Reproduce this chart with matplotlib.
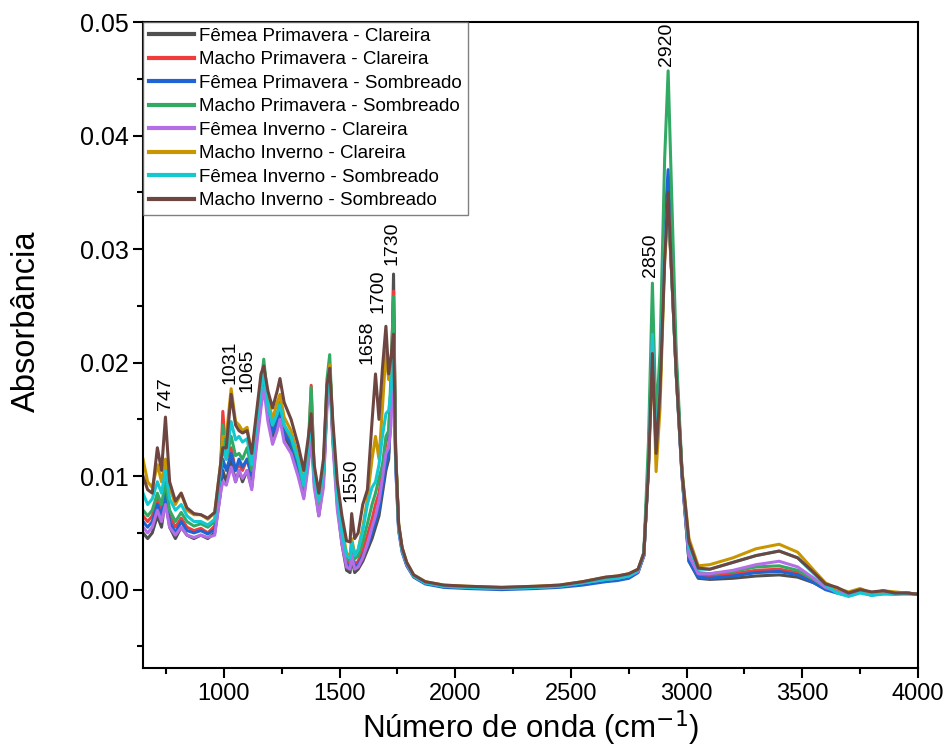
import numpy as np
import matplotlib
matplotlib.use("Agg")
import matplotlib.pyplot as plt
from matplotlib.ticker import MultipleLocator

plt.rcParams["font.family"] = ["Liberation Sans", "DejaVu Sans"]

# wavenumber grid (cm-1) shared by all spectra
wavenumber = [
    650, 670, 690, 712, 730, 747, 765, 790, 815, 840,
    870, 900, 930, 960, 985, 995, 1010, 1031, 1050, 1065,
    1080, 1100, 1120, 1140, 1160, 1172, 1190, 1210, 1230, 1242,
    1260, 1290, 1320, 1345, 1365, 1377, 1390, 1410, 1430, 1445,
    1457, 1470, 1490, 1510, 1530, 1545, 1552, 1565, 1580, 1600,
    1620, 1640, 1655, 1670, 1685, 1700, 1712, 1722, 1733, 1742,
    1755, 1770, 1790, 1820, 1870, 1950, 2050, 2200, 2350, 2450,
    2550, 2650, 2700, 2750, 2790, 2815, 2835, 2852, 2868, 2885,
    2905, 2920, 2935, 2955, 2980, 3010, 3050, 3100, 3200, 3300,
    3400, 3480, 3550, 3600, 3650, 3700, 3750, 3800, 3850, 3900,
    3950, 4000,
]

# absorbance values, in units of 1e-3
femea_prim_clareira = [
    5.0, 4.5, 5.0, 6.5, 5.5, 8.0, 5.5, 4.5, 5.5, 4.8,
    4.5, 4.8, 4.5, 5.0, 8.5, 10.5, 9.5, 11.5, 9.5, 10.5,
    9.5, 10.5, 9.0, 13.0, 16.5, 18.5, 15.5, 13.5, 14.5, 15.5,
    13.5, 12.5, 10.5, 8.2, 11.5, 14.5, 9.5, 6.5, 9.5, 16.5,
    19.5, 13.5, 7.5, 4.0, 1.7, 1.5, 2.8, 1.5, 1.8, 2.5,
    3.5, 4.5, 5.5, 6.5, 8.5, 10.5, 11.5, 16.0, 27.8, 12.0,
    5.5, 3.5, 2.2, 1.2, 0.6, 0.3, 0.2, 0.1, 0.2, 0.3,
    0.6, 0.9, 1.0, 1.2, 1.6, 3.0, 11.0, 22.5, 12.5, 18.0,
    30.0, 34.5, 28.0, 19.0, 10.0, 2.5, 1.0, 0.9, 1.0, 1.2,
    1.3, 1.1, 0.6, 0.1, -0.2, -0.4, -0.1, -0.4, -0.2, -0.3,
    -0.3, -0.4,
]
macho_prim_clareira = [
    6.5, 6.0, 6.5, 8.0, 7.0, 9.0, 6.5, 5.5, 6.3, 5.5,
    5.2, 5.4, 5.0, 5.6, 10.5, 15.7, 11.5, 12.5, 10.5, 11.0,
    10.5, 11.5, 10.0, 13.5, 17.0, 19.0, 16.0, 14.0, 15.0, 16.0,
    14.0, 13.0, 11.0, 8.8, 12.0, 18.0, 10.0, 7.2, 10.0, 17.0,
    19.8, 14.0, 8.0, 4.5, 2.5, 2.2, 3.5, 2.2, 2.5, 3.5,
    4.8, 6.2, 7.5, 8.5, 10.5, 13.0, 13.8, 18.0, 26.3, 12.0,
    5.5, 3.5, 2.2, 1.2, 0.6, 0.3, 0.2, 0.1, 0.2, 0.3,
    0.6, 0.9, 1.0, 1.2, 1.6, 3.0, 11.2, 23.0, 13.0, 19.0,
    31.0, 35.0, 29.0, 19.5, 10.2, 3.0, 1.3, 1.2, 1.4, 1.7,
    1.8, 1.5, 0.8, 0.2, -0.1, -0.3, 0.0, -0.3, -0.1, -0.3,
    -0.3, -0.4,
]
femea_prim_sombreado = [
    6.0, 5.5, 6.0, 7.5, 6.5, 8.5, 6.0, 5.0, 6.0, 5.2,
    5.0, 5.2, 4.9, 5.3, 9.0, 11.5, 10.5, 12.0, 10.5, 11.5,
    10.8, 11.5, 10.0, 13.5, 16.8, 18.8, 15.8, 13.8, 14.8, 15.8,
    13.8, 12.8, 10.8, 8.6, 11.8, 15.0, 9.8, 7.0, 9.8, 16.8,
    19.6, 13.8, 7.8, 4.3, 2.2, 2.0, 3.2, 2.0, 2.2, 3.0,
    3.8, 5.0, 6.0, 7.0, 9.0, 11.0, 12.0, 16.0, 24.0, 11.0,
    5.2, 3.3, 2.1, 1.1, 0.5, 0.2, 0.1, 0.0, 0.1, 0.2,
    0.4, 0.7, 0.8, 1.0, 1.5, 3.0, 11.0, 23.0, 13.5, 19.0,
    32.0, 37.0, 30.0, 20.0, 10.2, 2.5, 1.1, 1.0, 1.2, 1.5,
    1.6, 1.3, 0.6, 0.0, -0.3, -0.5, -0.2, -0.5, -0.3, -0.4,
    -0.3, -0.4,
]
macho_prim_sombreado = [
    7.0, 6.5, 7.0, 8.5, 7.5, 9.5, 7.0, 6.0, 6.8, 6.0,
    5.6, 5.8, 5.5, 6.0, 10.5, 14.5, 11.5, 13.5, 11.8, 12.0,
    11.5, 12.5, 10.5, 14.0, 18.0, 20.3, 16.5, 14.5, 15.5, 16.5,
    14.5, 13.3, 11.3, 9.0, 13.0, 17.8, 10.5, 7.5, 10.5, 18.5,
    20.7, 14.5, 8.2, 4.8, 2.7, 2.5, 4.0, 2.7, 3.0, 4.2,
    5.8, 7.5, 8.5, 9.8, 11.0, 13.5, 14.0, 19.0, 25.8, 12.5,
    5.6, 3.6, 2.3, 1.2, 0.6, 0.3, 0.2, 0.1, 0.2, 0.3,
    0.6, 0.9, 1.0, 1.2, 1.7, 3.3, 13.0, 27.0, 14.7, 21.0,
    38.0, 45.7, 35.0, 21.0, 10.5, 3.0, 1.5, 1.4, 1.6, 2.0,
    2.1, 1.7, 0.9, 0.2, 0.0, -0.4, -0.1, -0.3, -0.2, -0.3,
    -0.3, -0.4,
]
femea_inv_clareira = [
    5.5, 5.0, 5.5, 7.0, 6.0, 7.5, 5.5, 4.8, 5.5, 4.8,
    4.6, 4.8, 4.6, 4.8, 8.5, 9.5, 9.2, 10.8, 9.5, 10.5,
    9.8, 10.5, 8.8, 12.5, 16.0, 17.8, 14.8, 12.8, 14.0, 15.0,
    13.0, 12.0, 10.0, 8.0, 11.0, 13.5, 9.0, 6.5, 9.0, 16.0,
    19.0, 13.0, 7.0, 4.0, 2.0, 1.8, 3.0, 1.8, 2.0, 2.8,
    4.0, 5.5, 6.5, 7.8, 9.8, 12.0, 12.5, 14.5, 22.0, 11.0,
    5.3, 3.4, 2.2, 1.2, 0.6, 0.3, 0.2, 0.1, 0.2, 0.3,
    0.6, 0.9, 1.0, 1.2, 1.6, 3.0, 10.8, 22.0, 12.0, 17.5,
    30.0, 34.0, 28.0, 19.0, 10.0, 3.0, 1.4, 1.4, 1.7, 2.2,
    2.5, 2.0, 1.0, 0.2, -0.2, -0.4, -0.1, -0.4, -0.2, -0.3,
    -0.3, -0.4,
]
macho_inv_clareira = [
    11.5, 9.5, 9.0, 11.0, 9.5, 11.5, 9.0, 7.5, 8.5, 7.0,
    6.6, 6.6, 6.2, 6.8, 11.0, 13.5, 13.5, 17.7, 14.8, 14.5,
    14.0, 14.3, 11.8, 15.0, 18.5, 19.5, 16.8, 15.0, 16.5, 17.2,
    15.2, 14.0, 11.8, 9.5, 12.5, 15.5, 10.5, 7.8, 10.5, 17.5,
    19.8, 14.0, 8.5, 5.5, 3.2, 3.0, 4.5, 3.2, 3.5, 5.5,
    8.0, 11.5, 13.5, 11.5, 16.0, 21.0, 18.5, 19.0, 22.0, 12.0,
    5.8, 3.7, 2.4, 1.3, 0.7, 0.4, 0.3, 0.2, 0.3, 0.4,
    0.7, 1.1, 1.2, 1.4, 1.8, 3.2, 10.8, 21.5, 10.4, 16.0,
    29.0, 33.5, 28.0, 19.0, 10.5, 4.5, 2.1, 2.2, 2.8, 3.6,
    4.0, 3.3, 1.7, 0.6, 0.1, -0.2, 0.1, -0.3, -0.1, -0.2,
    -0.3, -0.4,
]
femea_inv_sombreado = [
    8.5, 7.5, 8.0, 9.5, 8.5, 10.5, 8.0, 7.0, 7.5, 6.5,
    6.0, 6.0, 5.7, 6.2, 10.5, 12.5, 11.5, 14.8, 13.2, 13.5,
    13.0, 13.3, 11.0, 14.5, 17.5, 19.0, 16.2, 14.5, 15.5, 16.3,
    14.5, 13.5, 11.5, 9.2, 12.5, 15.0, 10.0, 7.8, 10.5, 17.0,
    19.5, 14.0, 8.2, 5.0, 3.0, 2.8, 4.2, 3.0, 3.5, 5.2,
    7.5, 9.0, 9.5, 11.0, 13.5, 15.5, 15.8, 17.5, 22.0, 11.5,
    5.5, 3.5, 2.3, 1.2, 0.6, 0.3, 0.2, 0.1, 0.2, 0.3,
    0.6, 0.9, 1.0, 1.2, 1.7, 3.1, 11.0, 22.5, 12.5, 18.0,
    30.0, 34.5, 28.0, 19.0, 10.2, 3.8, 1.8, 1.8, 2.4, 3.0,
    3.4, 2.8, 1.4, 0.4, -0.3, -0.6, -0.3, -0.5, -0.4, -0.4,
    -0.4, -0.4,
]
macho_inv_sombreado = [
    10.0, 8.8, 8.5, 12.5, 10.5, 15.2, 9.5, 7.8, 8.5, 7.2,
    6.7, 6.6, 6.3, 6.8, 11.0, 12.5, 12.5, 17.2, 14.5, 14.0,
    13.8, 14.0, 12.0, 15.5, 19.0, 19.7, 17.5, 16.0, 17.5, 18.6,
    16.5, 15.0, 12.8, 10.5, 13.5, 15.5, 11.0, 8.5, 11.5, 18.0,
    19.5, 15.0, 9.5, 6.5, 4.3, 4.2, 6.7, 4.5, 5.0, 7.5,
    8.8, 14.8, 19.0, 15.0, 19.5, 23.2, 19.0, 20.5, 22.5, 12.0,
    5.8, 3.7, 2.4, 1.3, 0.7, 0.4, 0.3, 0.2, 0.3, 0.4,
    0.7, 1.1, 1.2, 1.4, 1.8, 3.2, 10.5, 20.8, 12.0, 17.5,
    29.0, 35.0, 28.0, 19.0, 10.3, 4.2, 1.9, 1.8, 2.4, 3.0,
    3.4, 2.8, 1.5, 0.5, 0.2, -0.3, 0.0, -0.2, -0.1, -0.3,
    -0.3, -0.4,
]

labels = [
    "Fêmea Primavera - Clareira",
    "Macho Primavera - Clareira",
    "Fêmea Primavera - Sombreado",
    "Macho Primavera - Sombreado",
    "Fêmea Inverno - Clareira",
    "Macho Inverno - Clareira",
    "Fêmea Inverno - Sombreado",
    "Macho Inverno - Sombreado",
]
series = [
    femea_prim_clareira, macho_prim_clareira, femea_prim_sombreado,
    macho_prim_sombreado, femea_inv_clareira, macho_inv_clareira,
    femea_inv_sombreado, macho_inv_sombreado,
]
colors = ["#505050", "#f03c3c", "#1e64d2", "#32aa64",
          "#b46ee6", "#c89600", "#14c8d2", "#6e4641"]

peak_labels = ["747", "1031", "1065", "1550", "1658", "1700", "1730", "2850", "2920"]
peak_x = [746, 1026, 1099, 1551, 1620, 1667, 1727, 2842, 2911]
peak_y = [0.0158, 0.0181, 0.0174, 0.0077, 0.0199, 0.0244, 0.0286, 0.0275, 0.0461]

fig = plt.figure(figsize=(9.49, 7.47), dpi=100)
ax = fig.add_axes([0.1507, 0.1058, 0.8166, 0.8647])

x = np.array(wavenumber)
for vals, lab, col in zip(series, labels, colors):
    ax.plot(x, np.array(vals) / 1000.0, color=col, lw=2.2, label=lab)

for t, px, py in zip(peak_labels, peak_x, peak_y):
    ax.text(px, py, t, rotation=90, ha="center", va="bottom", fontsize=14)

ax.set_xlim(650, 4000)
ax.set_ylim(-0.0069, 0.05)
ax.xaxis.set_major_locator(MultipleLocator(500))
ax.xaxis.set_minor_locator(MultipleLocator(250))
ax.yaxis.set_major_locator(MultipleLocator(0.01))
ax.yaxis.set_minor_locator(MultipleLocator(0.005))
ax.yaxis.set_major_formatter(plt.FormatStrFormatter("%.2f"))
ax.tick_params(which="major", direction="out", length=7, width=1.5, labelsize=17)
ax.tick_params(axis="y", which="major", labelsize=18)
ax.tick_params(which="minor", direction="out", length=4, width=1.5)
for s in ax.spines.values():
    s.set_linewidth(1.5)

ax.set_xlabel("Número de onda (cm$^{-1}$)", fontsize=22.5)
ax.set_ylabel("Absorbância", fontsize=23.5)
ax.xaxis.set_label_coords(0.5, -0.063)
ax.yaxis.set_label_coords(-0.131, 0.537)

leg = ax.legend(loc="upper left", fontsize=13.5, frameon=True, fancybox=False,
                edgecolor="#606060", borderaxespad=0.0, borderpad=0.3,
                labelspacing=0.34, handlelength=2.4, handletextpad=0.3)
leg.get_frame().set_linewidth(1.0)
for h in leg.get_lines():
    h.set_linewidth(3.0)

fig.savefig("out.png", dpi=100)
